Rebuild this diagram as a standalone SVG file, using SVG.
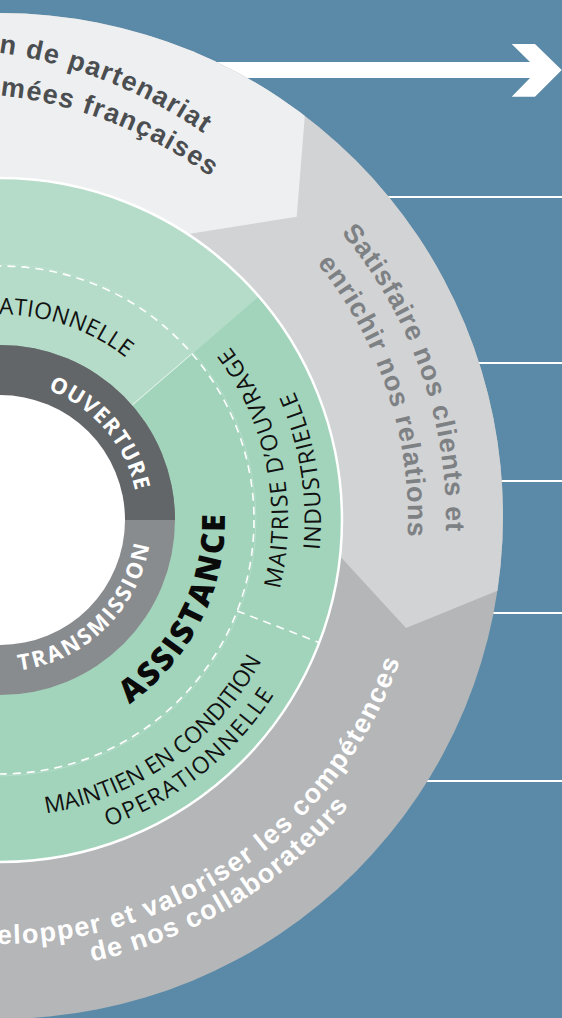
<svg xmlns="http://www.w3.org/2000/svg" width="562" height="1018" viewBox="0 0 562 1018">
<defs>
<style>
.outer { font-family: "Liberation Sans", Arial, sans-serif; font-weight: bold; font-size: 27px; }
.green { font-family: "Open Sans", "DejaVu Sans", sans-serif; font-weight: 400; font-size: 23px; fill: #111111; }
.core { font-family: "Open Sans", "DejaVu Sans", sans-serif; font-weight: 700; font-size: 22px; fill: #ffffff; }
.big { font-family: "Open Sans", "DejaVu Sans", sans-serif; font-weight: 800; font-size: 32px; fill: #0a0a0a; }
.hline { stroke: #ffffff; stroke-width: 2; fill: none; }
.dash { stroke: #ffffff; stroke-width: 1.6; fill: none; stroke-dasharray: 8 6; }
</style>
<clipPath id="outerClip"><circle cx="0" cy="516" r="503"/></clipPath>
<path id="p-ouv" d="M47.37,389.85 A138.5,138.5 0 0 1 135.47,491.20"/>
<path id="p-trans" d="M18.46,670.37 A151.5,151.5 0 0 0 149.47,544.74"/>
<path id="p-assist" d="M129.05,704.31 A225,225 0 0 0 224.92,514.11"/>
<path id="p-ation" d="M-1.79,314.51 A205.5,205.5 0 0 1 126.52,358.06"/>
<path id="p-moa" d="M279.45,589.67 A288,288 0 0 0 229.40,345.87"/>
<path id="p-ind" d="M319.52,550.77 A321,321 0 0 0 293.73,390.47"/>
<path id="p-mco1" d="M45.44,813.50 A297,297 0 0 0 261.92,659.91"/>
<path id="p-mco2" d="M107.43,826.73 A325,325 0 0 0 274.42,694.15"/>
<path id="p-part" d="M-2.03,52.61 A474,474 0 0 1 203.88,133.72"/>
<path id="p-fr" d="M-0.63,95.38 A434,434 0 0 1 210.9,177.2"/>
<path id="p-sat" d="M340.7,232.2 A446,446 0 0 1 445.85,531.68"/>
<path id="p-enr" d="M316.6,262.7 A408,408 0 0 1 407.6,537.1"/>
<path id="p-dev" d="M-3.70,943.98 A424,424 0 0 0 400.1,660.1"/>
<path id="p-coll" d="M91.45,961.63 A451,451 0 0 0 349.0,805.6"/>
</defs>

<rect width="562" height="1018" fill="#5a8aa8"/>

<g id="connectors">
<line class="hline" x1="300" y1="197" x2="562" y2="197"/>
<line class="hline" x1="300" y1="363" x2="562" y2="363"/>
<line class="hline" x1="300" y1="481" x2="562" y2="481"/>
<line class="hline" x1="300" y1="613" x2="562" y2="613"/>
<line class="hline" x1="300" y1="781" x2="562" y2="781"/>
<polygon fill="#ffffff" points="200,62 530,62 511.7,44 535,44 561.7,70 535,96.7 511.7,96.7 530,78 200,78"/>
</g>

<g id="seg-competences">
<circle cx="0" cy="516" r="503" fill="#b4b6b8"/>
</g>
<g id="seg-clients">
<polygon clip-path="url(#outerClip)" fill="#d2d3d4" points="150,-60 700,-60 700,508 406,628 340.5,556.7 300,512.6 150,300"/>
</g>
<g id="seg-partenariat">
<polygon clip-path="url(#outerClip)" fill="#eeeff0" points="-20,-60 319,-60 296.7,216.7 193.3,233.3 100,248 -20,262"/>
</g>

<g id="green-ring">
<circle cx="0" cy="520" r="342" fill="#a2d4bb"/>
<path d="M0,520 L258.9,296.5 A342,342 0 0 0 -342,520 Z" fill="#b4dcc8"/>
<circle cx="0" cy="520" r="342" fill="none" stroke="#ffffff" stroke-width="2.5"/>
<line x1="132.1" y1="405.2" x2="191.7" y2="353.9" stroke="#ffffff" stroke-opacity="0.7" stroke-width="1"/>
<circle cx="0" cy="520" r="256" fill="none" stroke="#c6e6d6" stroke-opacity="0.6" stroke-width="0.8"/>
<circle class="dash" cx="0" cy="520" r="254"/>
<line class="dash" x1="237.1" y1="611.0" x2="319.3" y2="642.6"/>
</g>

<g id="core-ring">
<circle cx="0" cy="520" r="175" fill="#898c8f"/>
<path d="M175,520 A175,175 0 0 0 -175,520 Z" fill="#626669"/>
<circle cx="0" cy="520" r="125" fill="#ffffff"/>
</g>

<g id="node-ouverture">
<text class="core"><textPath href="#p-ouv" startOffset="50%" text-anchor="middle" textLength="139">OUVERTURE</textPath></text>
</g>
<g id="node-transmission">
<text class="core"><textPath href="#p-trans" startOffset="50%" text-anchor="middle" textLength="193">TRANSMISSION</textPath></text>
</g>
<g id="node-assistance">
<text class="big"><textPath href="#p-assist" startOffset="50%" text-anchor="middle" textLength="221">ASSISTANCE</textPath></text>
</g>
<g id="node-mco-top">
<text class="green"><textPath href="#p-ation" startOffset="50%" text-anchor="middle" textLength="137">ATIONNELLE</textPath></text>
</g>
<g id="node-moa">
<text class="green"><textPath href="#p-moa" startOffset="50%" text-anchor="middle" textLength="256">MAITRISE D’OUVRAGE</textPath></text>
<text class="green"><textPath href="#p-ind" startOffset="50%" text-anchor="middle" textLength="163">INDUSTRIELLE</textPath></text>
</g>
<g id="node-mco">
<text class="green"><textPath href="#p-mco1" startOffset="50%" text-anchor="middle" textLength="274">MAINTIEN EN CONDITION</textPath></text>
<text class="green"><textPath href="#p-mco2" startOffset="50%" text-anchor="middle" textLength="216">OPERATIONNELLE</textPath></text>
</g>
<g id="node-partenariat-text">
<text class="outer" fill="#4b4e51"><textPath href="#p-part" startOffset="50%" text-anchor="middle" textLength="222">n de partenariat</textPath></text>
<text class="outer" fill="#4b4e51"><textPath href="#p-fr" startOffset="50%" text-anchor="middle" textLength="228">mées françaises</textPath></text>
</g>
<g id="node-clients-text">
<text class="outer" fill="#7e8184"><textPath href="#p-sat" startOffset="50%" text-anchor="middle" textLength="323">Satisfaire nos clients et</textPath></text>
<text class="outer" fill="#7e8184"><textPath href="#p-enr" startOffset="50%" text-anchor="middle" textLength="294">enrichir nos relations</textPath></text>
</g>
<g id="node-competences-text">
<text class="outer" fill="#ffffff"><textPath href="#p-dev" startOffset="50%" text-anchor="middle" textLength="525">elopper et valoriser les compétences</textPath></text>
<text class="outer" fill="#ffffff"><textPath href="#p-coll" startOffset="50%" text-anchor="middle" textLength="306">de nos collaborateurs</textPath></text>
</g>
</svg>
